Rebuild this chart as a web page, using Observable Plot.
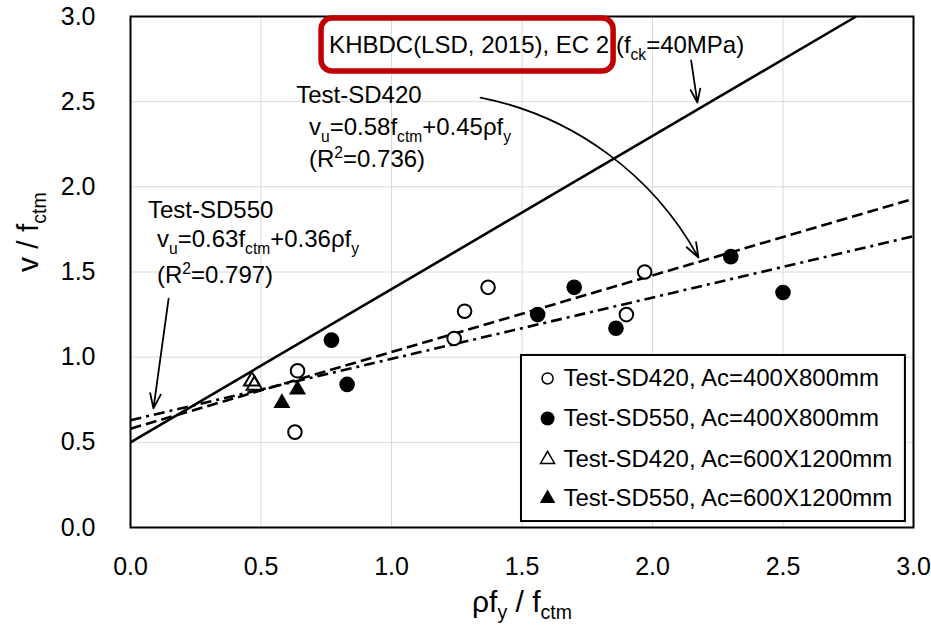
<!DOCTYPE html>
<html><head><meta charset="utf-8">
<script src="https://cdn.jsdelivr.net/npm/d3@7"></script>
<script src="https://cdn.jsdelivr.net/npm/@observablehq/plot@0.6"></script>
<style>body{margin:0;background:#fff;} #chart svg{display:block;}</style>
</head><body><div id="chart"></div>
<script>
// ---- data ----
const xTicks = [0, 0.5, 1.0, 1.5, 2.0, 2.5, 3.0];
const yTicks = [0, 0.5, 1.0, 1.5, 2.0, 2.5, 3.0];

const sd420SmallX = [0.64, 0.63, 1.24, 1.28, 1.37, 1.90, 1.97];
const sd420SmallY = [0.92, 0.56, 1.11, 1.27, 1.41, 1.25, 1.50];
const sd550SmallX = [0.77, 0.83, 1.56, 1.70, 1.86, 2.30, 2.50];
const sd550SmallY = [1.10, 0.84, 1.25, 1.41, 1.17, 1.59, 1.38];
const sd420LargeX = [0.465, 0.475];
const sd420LargeY = [0.86, 0.835];
const sd550LargeX = [0.58, 0.64];
const sd550LargeY = [0.73, 0.81];

// design / regression lines (start and end in data units)
const lineX1 = [0, 0, 0];
const lineY1 = [0.50, 0.58, 0.63];
const lineX2 = [2.78, 3.0, 3.0];
const lineY2 = [3.0, 1.93, 1.71];

const legendLabels = ["Test-SD420, Ac=400X800mm", "Test-SD550, Ac=400X800mm",
                      "Test-SD420, Ac=600X1200mm", "Test-SD550, Ac=600X1200mm"];

const annoText = ["KHBDC(LSD, 2015), EC 2 (f_{ck}=40MPa)", "Test-SD420",
  "v_{u}=0.58f_{ctm}+0.45ρf_{y}", "(R^{2}=0.736)", "Test-SD550",
  "v_{u}=0.63f_{ctm}+0.36ρf_{y}", "(R^{2}=0.797)"];
const annoX = [0.761, 0.635, 0.684, 0.684, 0.067, 0.1015, 0.1015];
const annoY = [2.828, 2.540, 2.347, 2.159, 1.865, 1.689, 1.478];

const arrowX1 = [2.148, 1.341, 0.146];
const arrowY1 = [2.742, 2.524, 1.344];
const arrowX2 = [2.172, 2.176, 0.088];
const arrowY2 = [2.495, 1.585, 0.699];

const boxX = [0.732, 1.851];
const boxY = [2.677, 2.988];

const legendBoxX = [1.498, 2.969];
const legendBoxY = [0.035, 1.010];
const legendRowY = [0.875, 0.640, 0.400, 0.170];
const legendSymX = 1.598;
const legendTextX = 1.659;

const xTitle = "ρf_{y} / f_{ctm}";
const yTitle = "v / f_{ctm}";

// ---- build tables ----
const pts = (xs, ys) => xs.map((x, i) => ({x, y: ys[i]}));
const FONT = "'Liberation Sans', Arial, Helvetica, sans-serif";

function lineMark(i, opts) {
  return Plot.link([i], {x1: j => lineX1[j], y1: j => lineY1[j], x2: j => lineX2[j], y2: j => lineY2[j],
    stroke: "black", strokeWidth: 2.6, ...opts});
}

const legendRows = legendLabels.map((t, i) => ({t, y: legendRowY[i], i}));

const plot = Plot.plot({
  width: 931, height: 630,
  marginLeft: 130, marginRight: 18, marginTop: 16, marginBottom: 103,
  style: {fontFamily: FONT, fontSize: "25px", color: "black", background: "white"},
  x: {domain: [0, 3]},
  y: {domain: [0, 3]},
  marks: [
    Plot.gridX(xTicks, {stroke: "#d9d9d9", strokeOpacity: 1, strokeWidth: 1}),
    Plot.gridY(yTicks, {stroke: "#d9d9d9", strokeOpacity: 1, strokeWidth: 1}),
    Plot.axisX(xTicks, {tickSize: 0, tickPadding: 30, fontSize: 25, tickFormat: d3.format(".1f"), label: null}),
    Plot.axisY(yTicks, {tickSize: 0, tickPadding: 35, fontSize: 25, tickFormat: d3.format(".1f"), label: null}),
    Plot.frame({stroke: "black", strokeWidth: 2}),
    lineMark(0, {}),
    lineMark(1, {strokeDasharray: "11,5"}),
    lineMark(2, {strokeDasharray: "11,5,3,5"}),
    // red highlight box
    Plot.rect([0], {x1: () => boxX[0], x2: () => boxX[1], y1: () => boxY[0], y2: () => boxY[1],
      rx: 11, fill: "none", stroke: "#c00000", strokeWidth: 5.5}),
    // data points
    Plot.dot(pts(sd420SmallX, sd420SmallY), {x: "x", y: "y", r: 6.8, symbol: "circle", fill: "white", stroke: "black", strokeWidth: 2}),
    Plot.dot(pts(sd550SmallX, sd550SmallY), {x: "x", y: "y", r: 7.8, symbol: "circle", fill: "black", stroke: "none"}),
    Plot.dot(pts(sd420LargeX, sd420LargeY), {x: "x", y: "y", r: 5.8, symbol: "triangle", fill: "none", stroke: "black", strokeWidth: 2}),
    Plot.dot(pts(sd550LargeX, sd550LargeY), {x: "x", y: "y", r: 6.3, symbol: "triangle", fill: "black", stroke: "none"}),
    // arrows
    Plot.arrow([0], {x1: i => arrowX1[i], y1: i => arrowY1[i], x2: i => arrowX2[i], y2: i => arrowY2[i],
      stroke: "black", strokeWidth: 1.8, headLength: 13, headAngle: 40}),
    Plot.arrow([1], {x1: i => arrowX1[i], y1: i => arrowY1[i], x2: i => arrowX2[i], y2: i => arrowY2[i],
      bend: 25, stroke: "black", strokeWidth: 1.8, headLength: 13, headAngle: 40}),
    Plot.arrow([2], {x1: i => arrowX1[i], y1: i => arrowY1[i], x2: i => arrowX2[i], y2: i => arrowY2[i],
      stroke: "black", strokeWidth: 1.8, headLength: 13, headAngle: 40}),
    // annotation text
    Plot.text(annoText.map((t, i) => ({t, x: annoX[i], y: annoY[i]})),
      {x: "x", y: "y", text: "t", textAnchor: "start", fontSize: 24, fill: "black"}),
    // legend
    Plot.rect([0], {x1: () => legendBoxX[0], x2: () => legendBoxX[1], y1: () => legendBoxY[0], y2: () => legendBoxY[1],
      fill: "white", stroke: "black", strokeWidth: 2}),
    Plot.dot(legendRows.filter(d => d.i === 0), {x: () => legendSymX, y: "y", r: 5.5, symbol: "circle", fill: "white", stroke: "black", strokeWidth: 1.5}),
    Plot.dot(legendRows.filter(d => d.i === 1), {x: () => legendSymX, y: "y", r: 7, symbol: "circle", fill: "black"}),
    Plot.dot(legendRows.filter(d => d.i === 2), {x: () => legendSymX, y: "y", r: 5.2, symbol: "triangle", fill: "none", stroke: "black", strokeWidth: 1.5}),
    Plot.dot(legendRows.filter(d => d.i === 3), {x: () => legendSymX, y: "y", r: 5.8, symbol: "triangle", fill: "black"}),
    Plot.text(legendRows, {x: () => legendTextX, y: "y", text: "t", textAnchor: "start", fontSize: 24, fill: "black"}),
    // axis titles
    Plot.text([xTitle], {frameAnchor: "bottom", dy: 84, text: d => d, fontSize: 30, fill: "black"}),
    Plot.text([yTitle], {frameAnchor: "left", dx: -102, rotate: -90, text: d => d, fontSize: 30, fill: "black"})
  ]
});

document.getElementById("chart").appendChild(plot);

// rich text: _{sub} and ^{sup}
const NS = "http://www.w3.org/2000/svg";
d3.select(plot).selectAll("text").each(function() {
  const el = this;
  const s = el.textContent;
  if (!/[_^]\{/.test(s)) return;
  const base = parseFloat(getComputedStyle(el).fontSize) || 24;
  const re = /([_^])\{([^}]*)\}|([^_^]+)/g;
  let m, shift = 0;
  el.textContent = "";
  while ((m = re.exec(s))) {
    const ts = document.createElementNS(NS, "tspan");
    let target = 0, txt = m[3];
    if (m[1] === "_") { target = base * 0.26; txt = m[2]; ts.setAttribute("font-size", (base * 0.65) + "px"); }
    else if (m[1] === "^") { target = -base * 0.38; txt = m[2]; ts.setAttribute("font-size", (base * 0.65) + "px"); }
    if (target - shift !== 0) ts.setAttribute("dy", target - shift);
    shift = target;
    ts.textContent = txt;
    el.appendChild(ts);
  }
});
</script></body></html>
